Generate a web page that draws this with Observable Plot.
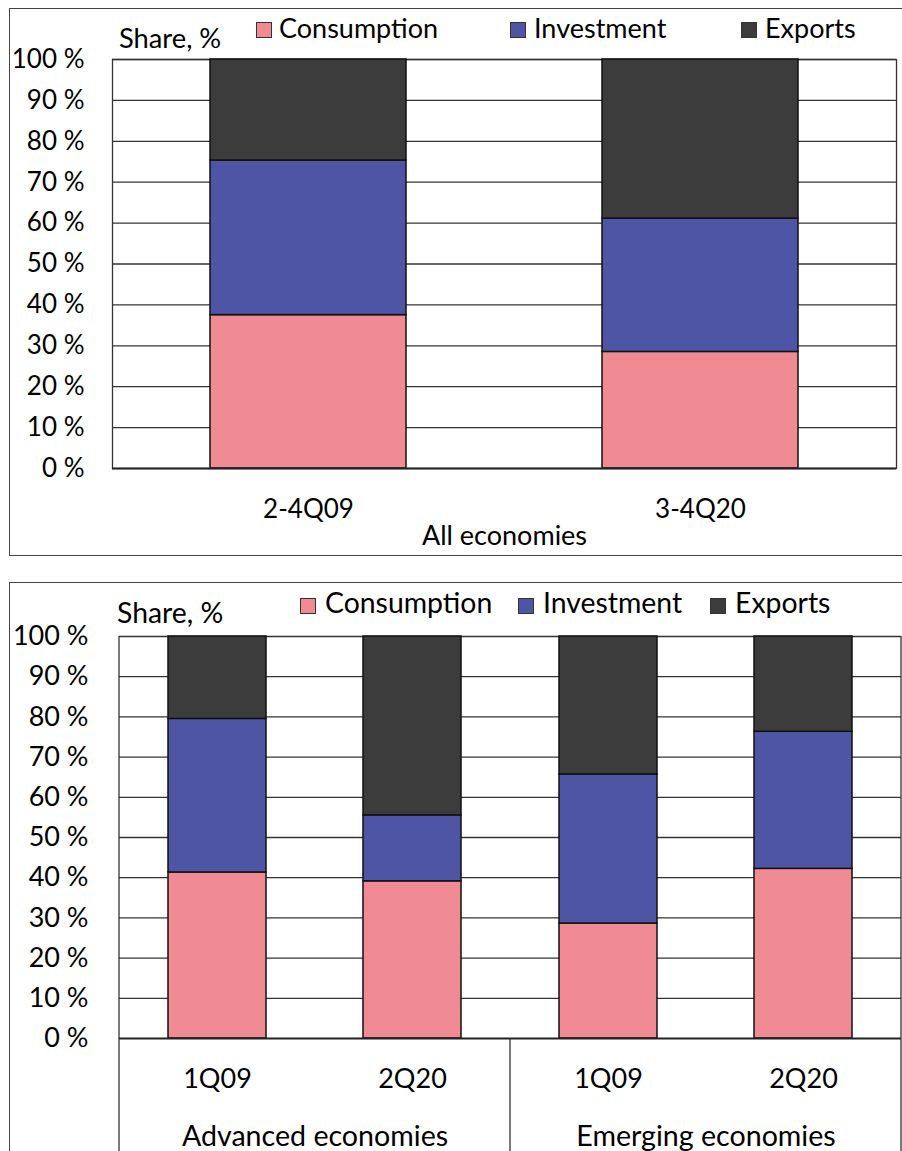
<!DOCTYPE html>
<html>
<head>
<meta charset="utf-8">
<script src="https://cdn.jsdelivr.net/npm/d3@7"></script>
<script src="https://cdn.jsdelivr.net/npm/@observablehq/plot@0.6"></script>
<style>
  html, body { margin: 0; padding: 0; background: #fff; }
  body { width: 902px; height: 1151px; position: relative; overflow: hidden; font-family: Lato, sans-serif; color: #000; }
  .abs { position: absolute; }
  .frame { position: absolute; border: 1.5px solid #444; box-sizing: border-box; }
  .lbl { position: absolute; line-height: 1; white-space: nowrap; }
  .sw { position: absolute; width: 16px; height: 16px; box-sizing: border-box; border: 1.5px solid #333; }
</style>
</head>
<body>
<div class="frame" style="left:9px; top:8px; width:894px; height:548px;"></div>
<div class="frame" style="left:9px; top:582px; width:894px; height:600px;"></div>
<div id="p1" class="abs" style="left:0; top:0;"></div>
<div id="p2" class="abs" style="left:0; top:582px;"></div>
<div id="leg"></div>
<script>
// ---- data ----
const series = ["Consumption", "Investment", "Exports"];
const colors = ["#F08B93", "#4E55A5", "#3C3C3C"];
const yTicks = [0, 10, 20, 30, 40, 50, 60, 70, 80, 90, 100];

// Panel 1: All economies
const periods1 = ["2-4Q09", "3-4Q20"];
const consumption1 = [37.5, 28.5];
const investment1 = [37.8, 32.6];
const exports1 = [24.7, 38.9];
const groupLabel1 = "All economies";

// Panel 2: Advanced vs Emerging
const groups2 = ["Advanced economies", "Advanced economies", "Emerging economies", "Emerging economies"];
const periods2 = ["1Q09", "2Q20", "1Q09", "2Q20"];
const consumption2 = [41.3, 39.1, 28.6, 42.2];
const investment2 = [38.2, 16.4, 37.1, 34.1];
const exports2 = [20.5, 44.5, 34.3, 23.7];

const yLabel = "Share, %";

function rows(periods, groups, c, i, e) {
  const out = [];
  periods.forEach((p, k) => {
    [c, i, e].forEach((arr, s) => out.push({period: p, group: groups ? groups[k] : null, series: series[s], value: arr[k]}));
  });
  return out;
}
const data1 = rows(periods1, null, consumption1, investment1, exports1);
const data2 = rows(periods2, groups2, consumption2, investment2, exports2);

// ---- panel 1 ----
const chart1 = Plot.plot({
  width: 902, height: 555,
  marginLeft: 112, marginRight: 6, marginTop: 59, marginBottom: 87,
  style: {fontFamily: "Lato, sans-serif", fontSize: "26px", color: "#000", background: "transparent", overflow: "visible"},
  x: {domain: periods1, paddingInner: 0.5, paddingOuter: 0.25, tickSize: 0, tickPadding: 31, label: null},
  y: {domain: [0, 100], ticks: yTicks, tickFormat: d => d + " %", tickSize: 0, tickPadding: 28, label: null},
  color: {domain: series, range: colors},
  marks: [
    Plot.ruleY(yTicks.filter(d => d > 0), {stroke: "#333", strokeWidth: 1.3}),
    Plot.frame({stroke: "#333", strokeWidth: 1.3}),
    Plot.barY(data1, {x: "period", y: "value", fill: "series", stroke: "#111", strokeWidth: 1.5}),
    Plot.ruleY([0], {stroke: "#222", strokeWidth: 2}),
    Plot.text([groupLabel1], {frameAnchor: "bottom", dy: 76, fontSize: 27, fill: "#000"})
  ]
});
document.getElementById("p1").appendChild(chart1);

// ---- panel 2 ----
const chart2 = Plot.plot({
  width: 902, height: 569,
  marginLeft: 118, marginRight: 1, marginTop: 54, marginBottom: 113,
  style: {fontFamily: "Lato, sans-serif", fontSize: "27px", color: "#000", background: "transparent", overflow: "visible"},
  fx: {domain: ["Advanced economies", "Emerging economies"], paddingInner: 0, paddingOuter: 0, axis: "bottom", tickSize: 0, tickPadding: 87, label: null},
  x: {domain: ["1Q09", "2Q20"], paddingInner: 0.5, paddingOuter: 0.25, tickSize: 0, tickPadding: 30, label: null},
  y: {domain: [0, 100], ticks: yTicks, tickFormat: d => d + " %", tickSize: 0, tickPadding: 31, label: null},
  color: {domain: series, range: colors},
  marks: [
    Plot.ruleY(yTicks.filter(d => d > 0), {stroke: "#333", strokeWidth: 1.3}),
    Plot.barY(data2, {fx: "group", x: "period", y: "value", fill: "series", stroke: "#111", strokeWidth: 1.5}),
    Plot.ruleY([0], {stroke: "#222", strokeWidth: 2})
  ]
});
document.getElementById("p2").appendChild(chart2);
d3.select(chart2).selectAll('g[aria-label^="fx-axis"]').attr("font-size", 28.6);

// group separators / plot-area side borders for panel 2
(function () {
  const fx = chart2.scale("fx");
  const y = chart2.scale("y");
  const dom = fx.domain;
  const bw = fx.bandwidth;
  const top = y.apply(100), base = y.apply(0);
  const lines = [];
  dom.forEach((g, i) => lines.push({x: fx.apply(g), y1: i === 0 ? top : base}));
  lines.push({x: fx.apply(dom[dom.length - 1]) + bw, y1: top});
  d3.select(chart2).append("g")
    .selectAll("line").data(lines).join("line")
    .attr("x1", d => d.x).attr("x2", d => d.x)
    .attr("y1", d => d.y1).attr("y2", 569)
    .attr("stroke", "#333").attr("stroke-width", 1.3);
})();

// ---- legends & y labels (HTML) ----
const leg = document.getElementById("leg");
function addText(txt, left, top, size) {
  const d = document.createElement("div");
  d.className = "lbl"; d.textContent = txt;
  d.style.left = left + "px"; d.style.top = top + "px"; d.style.fontSize = size + "px";
  leg.appendChild(d);
}
function addSwatch(color, left, top) {
  const d = document.createElement("div");
  d.className = "sw"; d.style.background = color;
  d.style.left = left + "px"; d.style.top = top + "px";
  leg.appendChild(d);
}
// panel 1
addText(yLabel, 119, 24, 27.3);
[[256, 279], [510, 534], [741, 765]].forEach(([sx, tx], i) => {
  addSwatch(colors[i], sx, 22);
  addText(series[i], tx, 14, 27);
});
// panel 2
addText(yLabel, 117, 598, 28.4);
[[300, 325], [518, 543], [710, 735]].forEach(([sx, tx], i) => {
  addSwatch(colors[i], sx, 598);
  addText(series[i], tx, 588, 28.4);
});
</script>
</body>
</html>
